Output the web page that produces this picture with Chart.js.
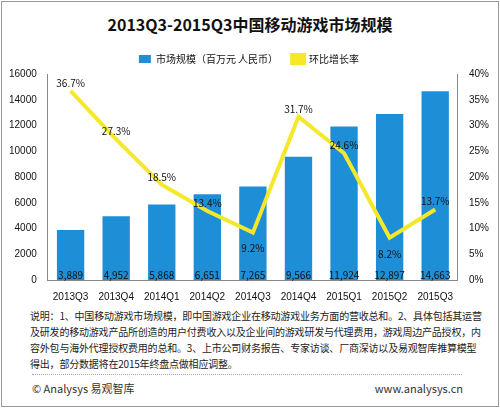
<!DOCTYPE html>
<html><head><meta charset="utf-8">
<script src="https://cdn.jsdelivr.net/npm/chart.js"></script>
<style>
body{margin:0;background:#fff;font-family:"Noto Sans CJK SC",sans-serif}
#wrap{position:absolute;left:1px;top:1px;width:496px;height:404px;border:1px solid #999}
#title{position:absolute;top:10px;width:100%;text-align:center;font-size:16px;font-weight:bold;color:#111}
#cv{position:absolute;left:0;top:38px}
#note{position:absolute;left:28px;top:306px;width:455px;font-size:10px;line-height:16px;color:#222;letter-spacing:-0.2px}
#sep{position:absolute;left:30px;top:372px;width:430px;border-top:1px dotted #aaa}
#foot1{position:absolute;left:30px;top:378px;font-size:11px;color:#333}
#foot2{position:absolute;right:35px;top:378px;font-size:11px;color:#333}
</style></head><body>
<div id="wrap">
<div id="title">2013Q3-2015Q3中国移动游戏市场规模</div>
<canvas id="cv" width="496" height="266"></canvas>
<div id="note">说明：1、中国移动游戏市场规模，即中国游戏企业在移动游戏业务方面的营收总和。2、具体包括其运营及研发的移动游戏产品所创造的用户付费收入以及企业间的游戏研发与代理费用，游戏周边产品授权，内容外包与海外代理授权费用的总和。3、上市公司财务报告、专家访谈、厂商深访以及易观智库推算模型得出，部分数据将在2015年终盘点做相应调整。</div>
<div id="sep"></div>
<div id="foot1">© Analysys 易观智库</div>
<div id="foot2">www.analysys.cn</div>
</div>
<script>
const categories=["2013Q3","2013Q4","2014Q1","2014Q2","2014Q3","2014Q4","2015Q1","2015Q2","2015Q3"];
const marketSize=[3889,4952,5868,6651,7265,9566,11924,12897,14663];
const growth=[36.7,27.3,18.5,13.4,9.2,31.7,24.6,8.2,13.7];
const labelsPlugin={id:'lbl',afterDatasetsDraw(c){
 const ctx=c.ctx;ctx.save();ctx.font='10px "Noto Sans CJK SC",sans-serif';ctx.fillStyle='#111';ctx.textAlign='center';
 const yb=c.scales.y.bottom;
 c.getDatasetMeta(1).data.forEach((b,i)=>{ctx.fillText(marketSize[i].toLocaleString('en-US'),b.x,yb-5);});
 c.getDatasetMeta(0).data.forEach((p,i)=>{ctx.fillText(growth[i].toFixed(1)+'%',p.x,p.y-(i==4||i==7?-16:8));});
 ctx.restore();}};
new Chart(document.getElementById('cv'),{
 data:{labels:categories,datasets:[
  {type:'line',label:'环比增长率',data:growth,yAxisID:'y1',borderColor:'#f5e82a',backgroundColor:'#f5e82a',borderWidth:4,pointRadius:0,tension:0,order:0},
  {type:'bar',label:'市场规模（百万元 人民币）',data:marketSize,yAxisID:'y',backgroundColor:'#1e8fd6',categoryPercentage:0.6,barPercentage:1,order:1}
 ]},
 options:{responsive:false,animation:false,
  layout:{padding:{left:4,right:6,bottom:0}},
  plugins:{legend:{reverse:true,labels:{boxWidth:12,boxHeight:8,font:{size:10,family:'"Noto Sans CJK SC"'},color:'#111',padding:14}},tooltip:{enabled:false}},
  scales:{
   x:{grid:{display:false},ticks:{color:'#111',font:{size:10}},border:{color:'#888'}},
   y:{min:0,max:16000,ticks:{stepSize:2000,color:'#111',font:{size:10},callback:v=>String(v)},grid:{display:false},border:{color:'#888'}},
   y1:{position:'right',min:0,max:40,ticks:{stepSize:5,color:'#111',font:{size:10},callback:v=>v+'%'},grid:{display:false},border:{color:'#888'}}
  }},
 plugins:[labelsPlugin]});
</script>
</body></html>
